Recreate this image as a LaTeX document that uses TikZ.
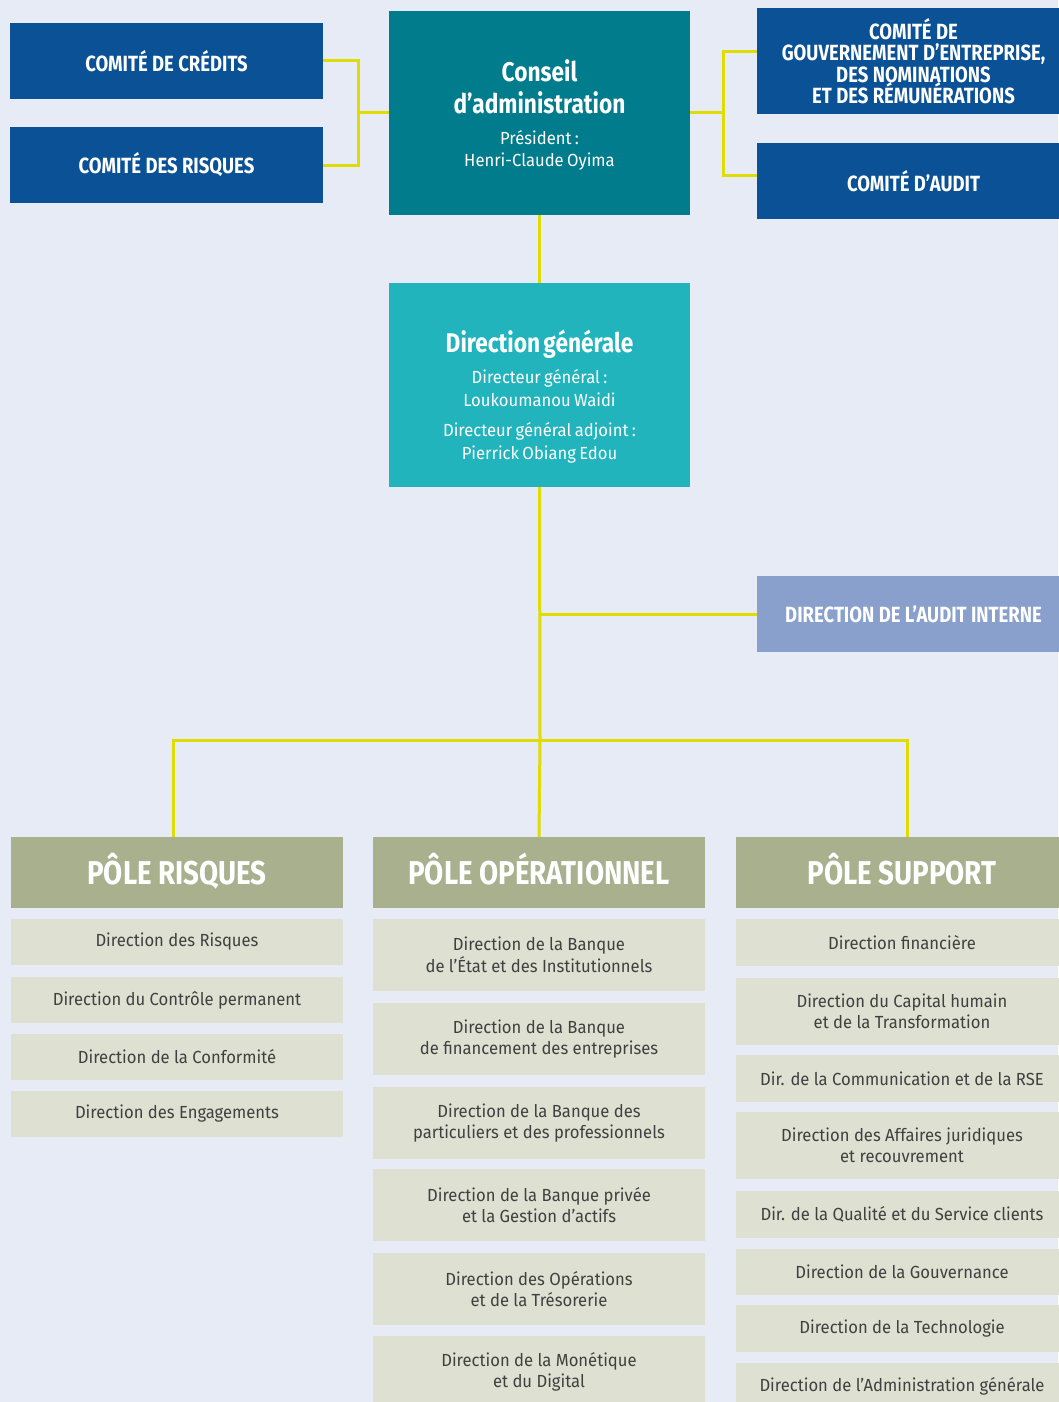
\documentclass[tikz,border=0pt]{standalone}
\usepackage{fontspec}
\setmainfont{Fira Sans}[FakeStretch=0.95]
\newfontfamily\headfont[FakeStretch=0.84]{Fira Sans}
\definecolor{bgblue}{HTML}{E7EBF6}
\definecolor{comblue}{HTML}{0B5196}
\definecolor{caTeal}{HTML}{017C8C}
\definecolor{dgTeal}{HTML}{21B4BC}
\definecolor{auditBlue}{HTML}{8AA0CC}
\definecolor{poleGreen}{HTML}{A8B08E}
\definecolor{itemGrey}{HTML}{DEE0D2}
\definecolor{textGrey}{HTML}{404040}
\definecolor{linkYellow}{HTML}{DEDC00}

\begin{document}
\begin{tikzpicture}[x=1pt,y=-1pt,
  link/.style={draw=linkYellow,line width=3pt},
  box/.style={anchor=north west,inner sep=0pt,outer sep=0pt,align=center},
  comite/.style={box,fill=comblue,text=white,font=\headfont\bfseries\fontsize{22}{21.5}\selectfont,minimum width=313,minimum height=76},
  head/.style={box,text=white,text width=301,minimum height=204},
  pole/.style={box,fill=poleGreen,text=white,font=\headfont\bfseries\fontsize{33}{36}\selectfont,minimum width=332,minimum height=71,text height=23,text depth=0},
  item/.style={box,fill=itemGrey,text=textGrey,font=\fontsize{17.5}{21.5}\selectfont,minimum width=332}]
\useasboundingbox (0,0) rectangle (1058,1402);
\fill[bgblue] (0,0) rectangle (1058,1402);

\node[comite] (credits) at (10,23) {COMITÉ DE CRÉDITS};
\node[comite] (risques) at (10,127) {COMITÉ DES RISQUES};
\node[comite,minimum height=106] (gouv) at (757,8) {COMITÉ DE\\GOUVERNEMENT D’ENTREPRISE,\\DES NOMINATIONS\\ET DES RÉMUNÉRATIONS};
\node[comite] (audit) at (757,143) {COMITÉ D’AUDIT};

\node[head,fill=caTeal] (conseil) at (389,11) {{\headfont\bfseries\fontsize{27}{32}\selectfont Conseil\\d’administration\par}\vspace{9pt}
  {\fontsize{17.5}{22}\selectfont Président :\\Henri-Claude Oyima\par}\vspace{-3pt}};
\node[head,fill=dgTeal] (dg) at (389,283) {{\headfont\bfseries\fontsize{27}{32}\selectfont Direction générale\par}\vspace{9pt}
  {\fontsize{17.5}{22.5}\selectfont Directeur général :\\Loukoumanou Waidi\par}\vspace{8pt}
  {\fontsize{17.5}{22.5}\selectfont Directeur général adjoint :\\Pierrick Obiang Edou\par}\vspace{-23pt}};
\node[comite,fill=auditBlue] (auditint) at (757,576) {DIRECTION DE L’AUDIT INTERNE};

\node[pole] (poleR) at (11,837) {PÔLE RISQUES};
\node[pole] (poleO) at (373,837) {PÔLE OPÉRATIONNEL};
\node[pole] (poleS) at (736,837) {PÔLE SUPPORT};

\node[item,minimum height=46] (r1) at (11,919) {Direction des Risques};
\node[item,minimum height=46] (r2) at (11,977) {Direction du Contrôle permanent};
\node[item,minimum height=46] (r3) at (11,1034) {Direction de la Conformité};
\node[item,minimum height=46] (r4) at (11,1091) {Direction des Engagements};

\node[item,minimum height=72] (o1) at (373,919) {Direction de la Banque\\de l’État et des Institutionnels};
\node[item,minimum height=72] (o2) at (373,1003) {Direction de la Banque\\de financement des entreprises};
\node[item,minimum height=72] (o3) at (373,1087) {Direction de la Banque des\\particuliers et des professionnels};
\node[item,minimum height=72] (o4) at (373,1169) {Direction de la Banque privée\\et la Gestion d’actifs};
\node[item,minimum height=72] (o5) at (373,1253) {Direction des Opérations\\et de la Trésorerie};
\node[item,minimum height=72] (o6) at (373,1336) {Direction de la Monétique\\et du Digital};

\node[item,minimum height=47] (s1) at (736,919) {Direction financière};
\node[item,minimum height=67] (s2) at (736,978) {Direction du Capital humain\\et de la Transformation};
\node[item,minimum height=47] (s3) at (736,1055) {Dir. de la Communication et de la RSE};
\node[item,minimum height=67] (s4) at (736,1112) {Direction des Affaires juridiques\\et recouvrement};
\node[item,minimum height=47] (s5) at (736,1191) {Dir. de la Qualité et du Service clients};
\node[item,minimum height=46] (s6) at (736,1249) {Direction de la Gouvernance};
\node[item,minimum height=47] (s7) at (736,1305) {Direction de la Technologie};
\node[item,minimum height=47] (s8) at (736,1363) {Direction de l’Administration générale};

\coordinate (lj) at (358,113);
\coordinate (rj) at (723,113);
\coordinate (hub) at (540,740);
\draw[link] (credits.east) -| (lj) |- (risques.east);
\draw[link] (lj) -- (conseil.west);
\draw[link] ([yshift=-44]gouv.north west) -| (rj) |- ([yshift=-32]audit.north west);
\draw[link] (rj) -- (conseil.east);
\draw[link] (conseil.south) -- (dg.north);
\draw[link] (dg.south) -- (hub);
\draw[link] (dg.south |- auditint.west) -- (auditint.west);
\draw[link] ([xshift=-4]poleR.north) |- (hub) -| ([xshift=5]poleS.north);
\draw[link] (hub) -- (poleO.north);
\end{tikzpicture}
\end{document}
